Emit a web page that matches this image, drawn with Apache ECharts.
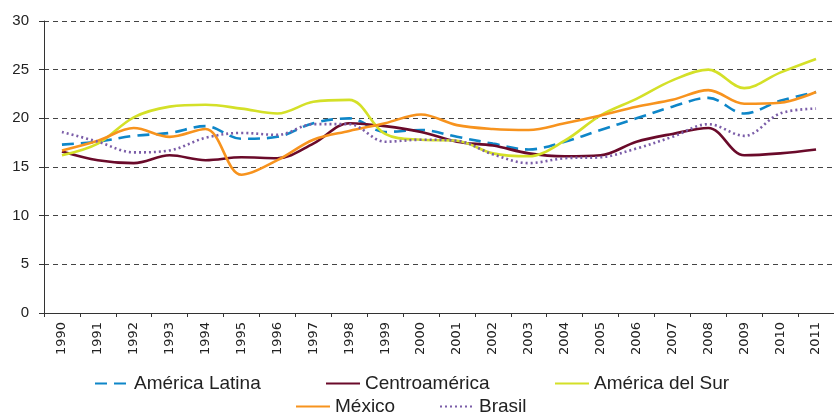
<!DOCTYPE html>
<html>
<head>
<meta charset="utf-8">
<script src="https://cdn.jsdelivr.net/npm/echarts@6/dist/echarts.min.js"></script>
<style>
  html, body { margin: 0; padding: 0; background: #fff; }
  #chart { width: 834px; height: 416px; }
</style>
</head>
<body>
<div id="chart"></div>
<script>
const years = ['1990', '1991', '1992', '1993', '1994', '1995', '1996', '1997', '1998', '1999', '2000',
  '2001', '2002', '2003', '2004', '2005', '2006', '2007', '2008', '2009', '2010', '2011']

const americaLatina = [17.3, 17.6, 18.2, 18.5, 19.2, 17.9, 18.1, 19.5, 20.0, 18.6, 18.8,
  18.1, 17.4, 16.8, 17.6, 18.8, 20.0, 21.2, 22.1, 20.5, 21.8, 22.7]
const centroamerica = [16.6, 15.7, 15.4, 16.2, 15.7, 16.0, 15.9, 17.4, 19.5, 19.2, 18.6,
  17.6, 17.2, 16.4, 16.1, 16.2, 17.6, 18.4, 19.0, 16.2, 16.4, 16.8]
const americaDelSur = [16.2, 17.4, 20.1, 21.2, 21.4, 21.0, 20.5, 21.7, 21.9, 18.4, 17.8,
  17.7, 16.4, 16.1, 17.7, 20.3, 22.0, 23.9, 25.0, 23.1, 24.7, 26.1]
const mexico = [16.7, 17.7, 19.0, 18.1, 18.9, 14.2, 15.7, 17.8, 18.7, 19.5, 20.4,
  19.3, 18.9, 18.8, 19.5, 20.3, 21.2, 21.9, 22.9, 21.5, 21.6, 22.7]
const brasil = [18.6, 17.6, 16.5, 16.7, 18.0, 18.5, 18.3, 19.4, 19.4, 17.6, 17.8,
  17.7, 16.3, 15.4, 15.9, 16.0, 16.9, 18.1, 19.4, 18.2, 20.5, 21.0]

const yTicks = [0, 5, 10, 15, 20, 25, 30]

const textColor = '#222'
const legendFont = { fontSize: 19, color: textColor, fontFamily: 'Liberation Sans, Arial, sans-serif' }

function makeLine(name, data, color, type) {
  return {
    name: name,
    type: 'line',
    data: data,
    smooth: 0.35,
    symbol: 'none',
    lineStyle: { color: color, width: 2.6, type: type },
    itemStyle: { color: color },
  }
}

function makeLegend(name, left, top) {
  return {
    data: [name],
    left: left,
    top: top,
    itemWidth: 34,
    itemHeight: 12,
    padding: 0,
    itemStyle: { opacity: 0, borderWidth: 0 },
    textStyle: legendFont,
  }
}

function getOption() {
  return {
    animation: false,
    grid: { left: 44, right: -6, top: 21, bottom: 103 },
    legend: [
      makeLegend('América Latina', 94, 374),
      makeLegend('Centroamérica', 325, 374),
      makeLegend('América del Sur', 554, 374),
      makeLegend('México', 295, 397),
      makeLegend('Brasil', 439, 397),
    ],
    xAxis: {
      type: 'category',
      data: years,
      boundaryGap: true,
      axisLine: { lineStyle: { color: '#333', width: 1 } },
      axisTick: { show: true, length: 4, lineStyle: { color: '#333' } },
      axisLabel: {
        rotate: 90,
        interval: 0,
        margin: 9,
        fontSize: 13,
        color: textColor,
        fontFamily: 'DejaVu Sans, sans-serif',
      },
    },
    yAxis: {
      type: 'value',
      min: yTicks[0],
      max: yTicks[yTicks.length - 1],
      interval: 5,
      axisLine: { show: true, lineStyle: { color: '#333', width: 1 } },
      axisTick: { show: true, length: 5, lineStyle: { color: '#333' } },
      axisLabel: {
        margin: 15,
        fontSize: 15,
        color: textColor,
        fontFamily: 'Liberation Sans, Arial, sans-serif',
      },
      splitLine: {
        show: true,
        lineStyle: { color: '#444', width: 1, type: [5, 4] },
      },
    },
    series: [
      makeLine('América Latina', americaLatina, '#0E86C8', [12, 7]),
      makeLine('Centroamérica', centroamerica, '#6A0A2A', 'solid'),
      makeLine('América del Sur', americaDelSur, '#D4E028', 'solid'),
      makeLine('México', mexico, '#F7931E', 'solid'),
      makeLine('Brasil', brasil, '#7B5DA8', [2, 3]),
    ],
  }
}

let chart = echarts.init(document.getElementById('chart'))
chart.setOption(getOption())
</script>
</body>
</html>
